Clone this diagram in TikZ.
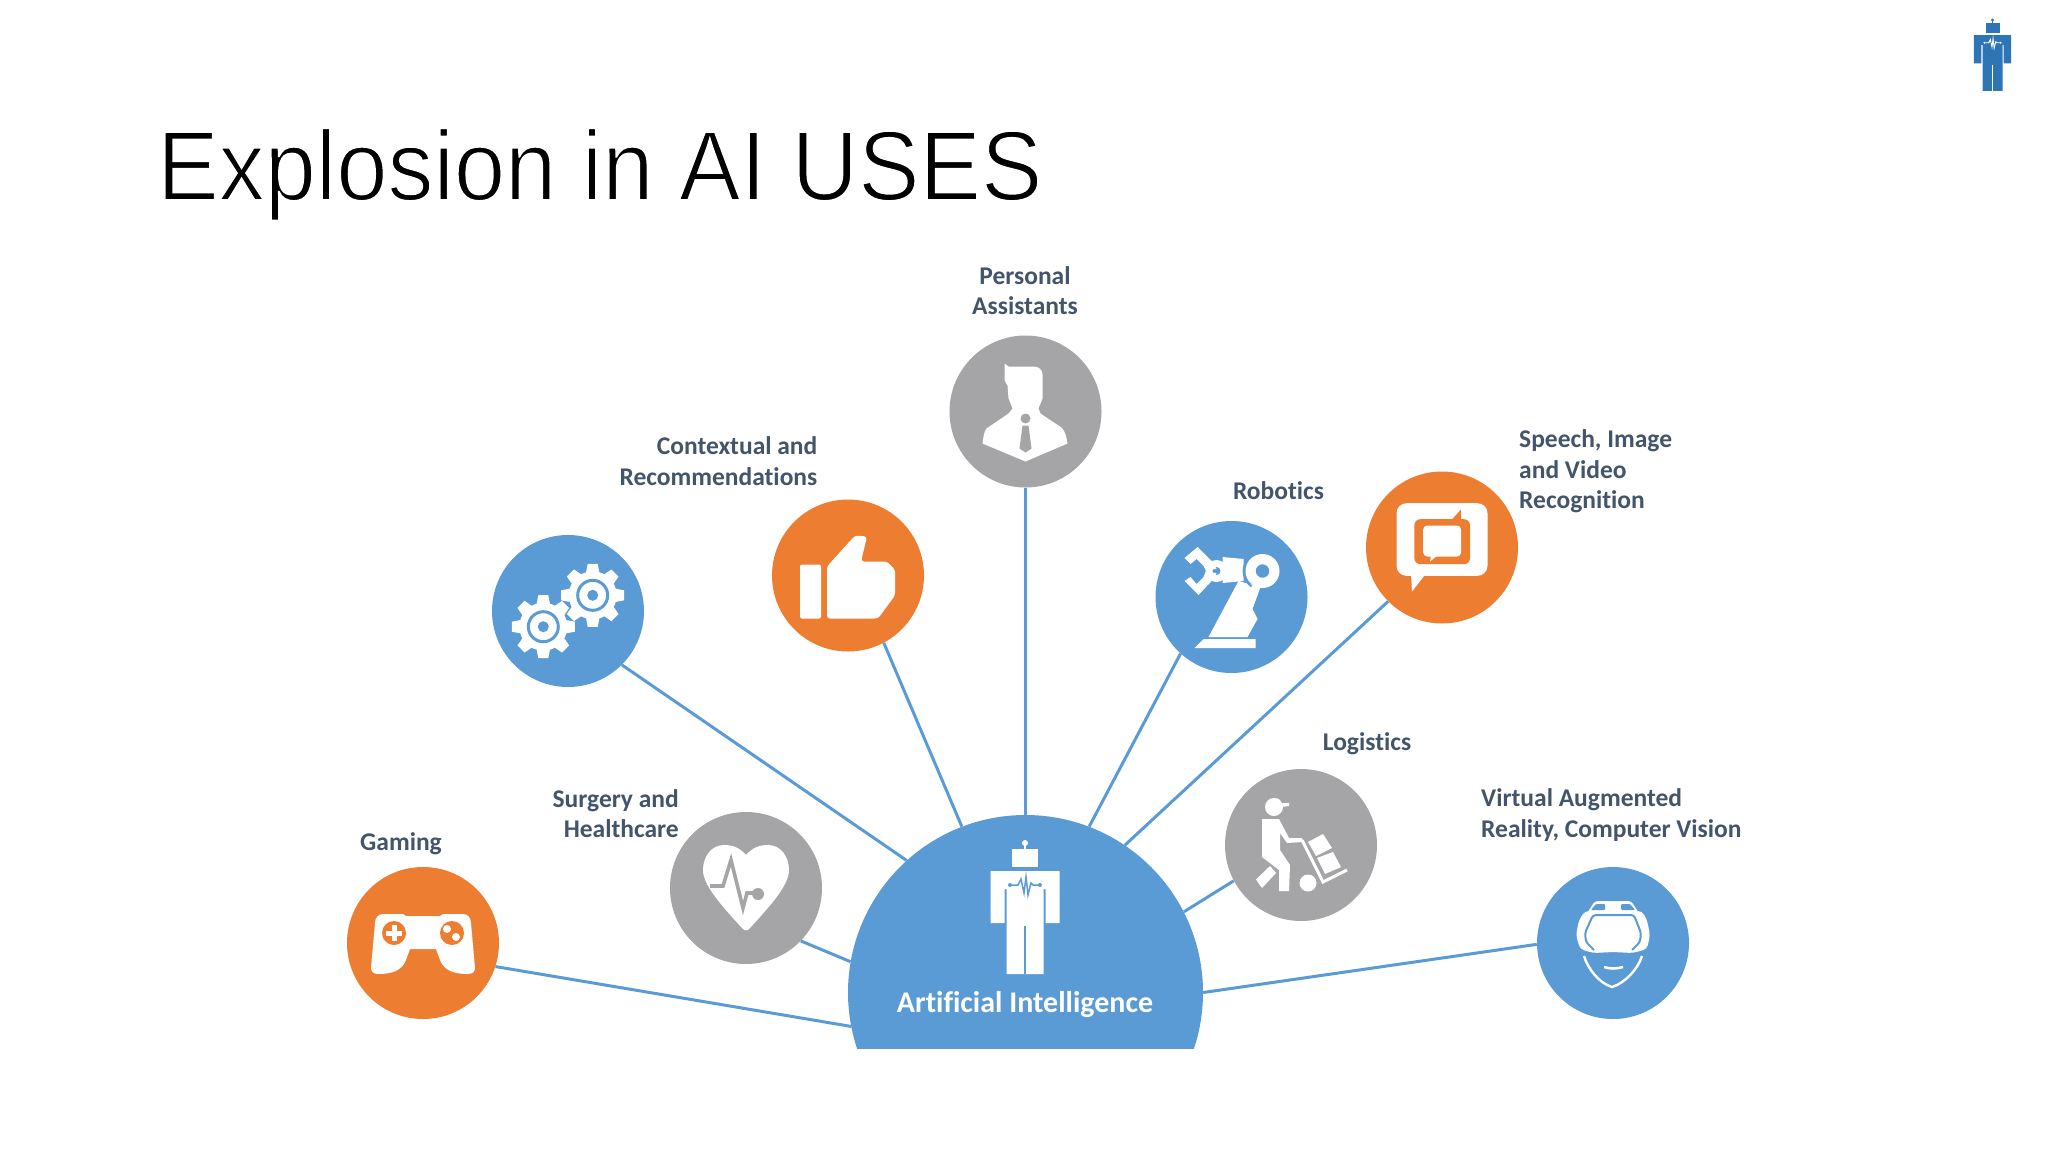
\documentclass[tikz,border=0pt]{standalone}
\usepackage{fontspec}
\setmainfont[Ligatures=NoCommon]{Carlito}
\newfontfamily\titlefont[FakeStretch=0.93]{Liberation Sans}
\usepackage{xcolor}
\usetikzlibrary{positioning,calc}

\definecolor{aiblue}{HTML}{5B9BD5}
\definecolor{aiorange}{HTML}{ED7D31}
\definecolor{aigray}{HTML}{A5A5A7}
\definecolor{aitext}{HTML}{44546A}
\definecolor{logoblue}{HTML}{2E75B6}

\tikzset{
    usecircle/.style={circle, inner sep=0pt, minimum size=152pt},
    bluecircle/.style={usecircle, fill=aiblue},
    orangecircle/.style={usecircle, fill=aiorange},
    graycircle/.style={usecircle, fill=aigray},
    domecircle/.style={circle, inner sep=0pt, minimum size=355pt, fill=aiblue},
    link/.style={aiblue, line width=3pt},
    lbl/.style={aitext, inner sep=0pt, font=\fontsize{25.5}{30.5}\selectfont\bfseries}
}

% robot figure, origin at the antenna tip
\newcommand{\robotfig}[3]{
    \fill [#1] (0,2) circle (3);
    \draw [#1, line width=1.2pt] (0,2) -- (0,8);
    \fill [#1] (-13,8) rectangle (13,26);
    \fill [#1] (-34.5,30) -- (34.5,30) -- (34.5,82) -- (20.5,82) -- (20.5,48) -- (18.5,48) -- (18.5,133) -- (-18.5,133) -- (-18.5,48) -- (-20.5,48) -- (-20.5,82) -- (-34.5,82) -- cycle;
    \draw [#2, line width=#3] (0,85) -- (0,133);
    \draw [#2, line width=#3] (-15,44) -- (-7,44) -- (-4,38) -- (-1,52) -- (1,36) -- (3,54) -- (6,42) -- (8,44) -- (15,44);
    \fill [#2] (-15,44) circle (2) (15,44) circle (2);
}
\newcommand{\gearfig}{
    \foreach \a in {0,45,...,315}
        \fill [white, rotate=\a] (-5,-31.5) -- (5,-31.5) -- (7,-21) -- (-7,-21) -- cycle;
    \fill [white] (0,0) circle (24);
    \draw [aiblue, line width=3pt] (0,0) circle (15);
    \fill [aiblue] (0,0) circle (5.5);
}

\begin{document}
\begin{tikzpicture}[x=1pt, y=-1pt]
    \useasboundingbox (0,0) rectangle (2048,1152);
    \node [anchor=base west, inner sep=0pt, font=\fontsize{99}{110}\selectfont\titlefont] (title) at (157,200) {\special{pdf:code q 2 Tr 1 1 1 RG 1.8 w}Explosion in AI USES\special{pdf:code Q}};

    \begin{scope}
        \clip (800,800) rectangle (1250,1048.5);
        \node [domecircle] (ai) at (1025.5,992.5) {};
    \end{scope}
    \node [bluecircle] (gears) at (568,611) {};
    \node [orangecircle] (thumb) at (848,575.5) {};
    \node [graycircle] (person) at (1025.5,411.5) {};
    \node [bluecircle] (robot) at (1231.5,597) {};
    \node [orangecircle] (speech) at (1442,547.5) {};
    \node [graycircle] (logistics) at (1301,845) {};
    \node [bluecircle] (vr) at (1613,943) {};
    \node [graycircle] (heart) at (746,888) {};
    \node [orangecircle] (gaming) at (423,943) {};

    \draw [link] (gaming.-18) -- (ai.191.5);
    \draw [link] (heart.-44) -- (ai.170.8);
    \draw [link] (gears.-45) -- (ai.132.6);
    \draw [link] (thumb.-62) -- (ai.111);
    \draw [link] (person.south) -- (ai.north);
    \draw [link] (robot.228) -- (ai.69.3);
    \draw [link] (speech.225) -- (ai.56.7);
    \draw [link] (logistics.208) -- (ai.27);
    \draw [link] (vr.181) -- (ai.0);

    \node [lbl, align=center] (personal_txt) at (1025,290.5) {Personal\\Assistants};
    \node [lbl, align=right, anchor=east] (context_txt) at (817.5,461) {Contextual and\\Recommendations};
    \node [lbl] (robotics_txt) at (1278.5,491) {Robotics};
    \node [lbl, align=left, anchor=west] (speech_txt) at (1519,471.5) {Speech, Image\\and Video\\Recognition};
    \node [lbl] (logistics_txt) at (1367,744) {Logistics};
    \node [lbl, align=left, anchor=west] (vr_txt) at (1481,815) {Virtual Augmented\\Reality, Computer Vision};
    \node [lbl, align=right, anchor=east] (surgery_txt) at (679,813.5) {Surgery and\\Healthcare};
    \node [lbl] (gaming_txt) at (401,844) {Gaming};
    \node [white, inner sep=0pt, font=\fontsize{30}{32}\selectfont\bfseries] (ai_txt) at (1025,1005) {Artificial Intelligence};

    % robots
    \begin{scope}[shift={(1025,841)}]
        \robotfig{white}{aiblue}{1.5pt}
    \end{scope}
    \begin{scope}[shift={(1992.5,19)}, scale=0.54]
        \robotfig{logoblue}{white}{0.9pt}
    \end{scope}

    % gears
    \begin{scope}[shift={(gears)}]
        \begin{scope}[shift={(-24.7,15.7)}]
            \gearfig
        \end{scope}
        \begin{scope}[shift={(24.7,-15.7)}]
            \gearfig
        \end{scope}
    \end{scope}

    % thumb
    \begin{scope}[shift={(thumb)}]
        \fill [white, rounded corners=2pt] (-48,-11) rectangle (-27,43);
        \fill [white, rounded corners=3pt] (-21,43) -- (-21,-9) -- (7,-40) -- (19,-39) -- (13,-14) -- (39,-14) -- (47,-6) -- (47,20) -- (30,43) -- cycle;
    \end{scope}

    % person
    \begin{scope}[shift={(person)}]
        \fill [white] (-21,-48) -- (-17,-45) -- (8,-45) .. controls (13,-45) and (17,-42) .. (17,-37) -- (17,-13) -- (13,-3) -- (15,2) -- (36,16) .. controls (40,20) and (41,26) .. (42,32) -- (0,50) -- (-43,32) .. controls (-42,26) and (-42,21) .. (-39,17) -- (-17,2) -- (-13,-3) -- (-17,-13) -- (-18,-26) -- (-21,-31) -- cycle;
        \fill [aigray] (0,7) circle (5);
        \fill [aigray] (-3,14) -- (3,14) -- (6,37) -- (0,41) -- (-6,37) -- cycle;
    \end{scope}

    % robot arm
    \begin{scope}[shift={(robot)}]
        \fill [white] (-37,51) -- (24,51) -- (24,42) -- (-28,42) -- cycle;
        \fill [white] (-23,40) -- (7,-16) -- (29,-10) -- (21,12) -- (26,22) -- (16,40) -- cycle;
        \fill [white] (-9,-40) -- (12,-38) -- (12,-16) -- (-9,-14) -- cycle;
        \draw [aiblue, line width=1.8pt] (31,-26) ++(125:19) arc (125:250:19);
        \fill [white] (31,-26) circle (17);
        \fill [aiblue] (31,-26) circle (6.7);
        \fill [white] (-15,-26) circle (11);
        \fill [aiblue] (-15,-26) circle (4);
        \fill [white] (-34,-50) -- (-47,-39) -- (-41,-33) -- (-35,-38) -- (-28,-31) -- (-26,-27) -- (-15,-28) -- (-18,-34) -- cycle;
        \fill [white] (-47,-16) -- (-33,-2) -- (-18,-18) -- (-15,-24) -- (-26,-25) -- (-28,-20) -- (-35,-13) -- (-41,-20) -- cycle;
    \end{scope}

    % speech bubble
    \begin{scope}[shift={(speech)}]
        \fill [white, rounded corners=10pt] (-45.5,-44.3) rectangle (45.5,28.3);
        \fill [white] (-31,26) -- (-30,44) -- (-16,26) -- cycle;
        \fill [aiorange, rounded corners=6pt] (-27.7,-28.3) rectangle (28,16.7);
        \fill [aiorange] (9,-27) -- (19,-38) -- (19,-27) -- cycle;
        \fill [white, rounded corners=4pt] (-18.8,-22) rectangle (19,9);
        \fill [white] (-11,8) -- (-12,14) -- (-4.5,8) -- cycle;
    \end{scope}

    % logistics
    \begin{scope}[shift={(logistics)}]
        \fill [white] (-27,-38) circle (9);
        \fill [white] (-28,-47) -- (-22,-46) -- (-20,-42) -- (-12,-42) -- (-12,-39) -- (-20,-38) -- cycle;
        \fill [white] (-39,-26) -- (-22,-26) -- (-12,-7) -- (1,-7) -- (2,-3) -- (-14,-2) -- (-21,-12) -- (-21,5) -- (-11,20) -- (-12,46) -- (-22,46) -- (-22,25) -- (-39,12) -- cycle;
        \fill [white] (-45,34.5) -- (-31,21) -- (-25,28) -- (-39,43) -- cycle;
        \draw [white, line width=3pt] (1,-5) -- (22,37) -- (46,25);
        \fill [white] (7,38) circle (8.5);
        \fill [white] (7,-3) -- (22,-11) -- (31,3) -- (15,11) -- cycle;
        \fill [white] (16,13) -- (32,7) -- (40,22) -- (24,29) -- cycle;
    \end{scope}

    % headset
    \begin{scope}[shift={(vr)}]
        \fill [white, rounded corners=3pt] (-26,-30) -- (-18,-42) -- (18,-42) -- (26,-30) -- cycle;
        \fill [aiblue, rounded corners=1pt] (-22,-33) -- (-17,-39) -- (-8,-39) -- (-8,-33) -- cycle;
        \fill [aiblue, rounded corners=1pt] (22,-33) -- (17,-39) -- (8,-39) -- (8,-33) -- cycle;
        \fill [white, rounded corners=4pt] (-28,-32) -- (29,-32) -- (34,-23) -- (37,-8) -- (34,6) -- (20,10) -- (0,9) -- (-20,10) -- (-33,6) -- (-37,-8) -- (-34,-23) -- cycle;
        \draw [aiblue, line width=2pt, rounded corners=3pt] (-19,7) -- (-27,-1) -- (-28,-10) -- (-20,-28) -- (21,-28) -- (28,-10) -- (27,-1) -- (19,7);
        \draw [white, line width=2.4pt] (-29,13) .. controls (-25,26) and (-14,40) .. (-1,44) .. controls (12,40) and (25,26) .. (29,13);
        \draw [white, line width=2.5pt] (-9,24) .. controls (-3,26) and (3,26) .. (10,24);
    \end{scope}

    % heart
    \begin{scope}[shift={(heart)}]
        \fill [white] (0,-33) .. controls (6,-40) and (13,-43) .. (22,-43) .. controls (35,-43) and (43,-31) .. (43,-18) .. controls (43,-3) and (25,17) .. (4,40) .. controls (2,43) and (-2,43) .. (-4,40) .. controls (-25,17) and (-43,-3) .. (-43,-18) .. controls (-43,-31) and (-35,-43) .. (-22,-43) .. controls (-13,-43) and (-6,-40) .. (0,-33) -- cycle;
        \draw [aigray, line width=3.6pt] (-36,-2) -- (-23,-2) -- (-15,-28) -- (-3,20) -- (1,5) -- (11,5);
        \fill [aigray] (12,6) circle (6);
    \end{scope}

    % game controller
    \begin{scope}[shift={(gaming)}]
        \fill [white] (-40,-29) -- (-20,-29) -- (-17,-27) -- (17,-27) -- (20,-29) -- (40,-29) .. controls (45,-29) and (48,-25) .. (48,-20) -- (52,25) .. controls (52,29) and (49,31) .. (45,31) .. controls (32,31) and (21,28) .. (17,17) -- (13,6) -- (-13,6) -- (-17,17) .. controls (-21,28) and (-32,31) .. (-45,31) .. controls (-49,31) and (-52,29) .. (-52,25) -- (-48,-20) .. controls (-48,-25) and (-45,-29) .. (-40,-29) -- cycle;
        \fill [aiorange] (-29,-10) circle (12) (29,-10) circle (12);
        \fill [white] (-37,-12.5) rectangle (-21,-7.5);
        \fill [white] (-31.5,-18) rectangle (-26.5,-2);
        \fill [white] (24,-14) circle (4) (33,-6) circle (4);
    \end{scope}
\end{tikzpicture}
\end{document}
